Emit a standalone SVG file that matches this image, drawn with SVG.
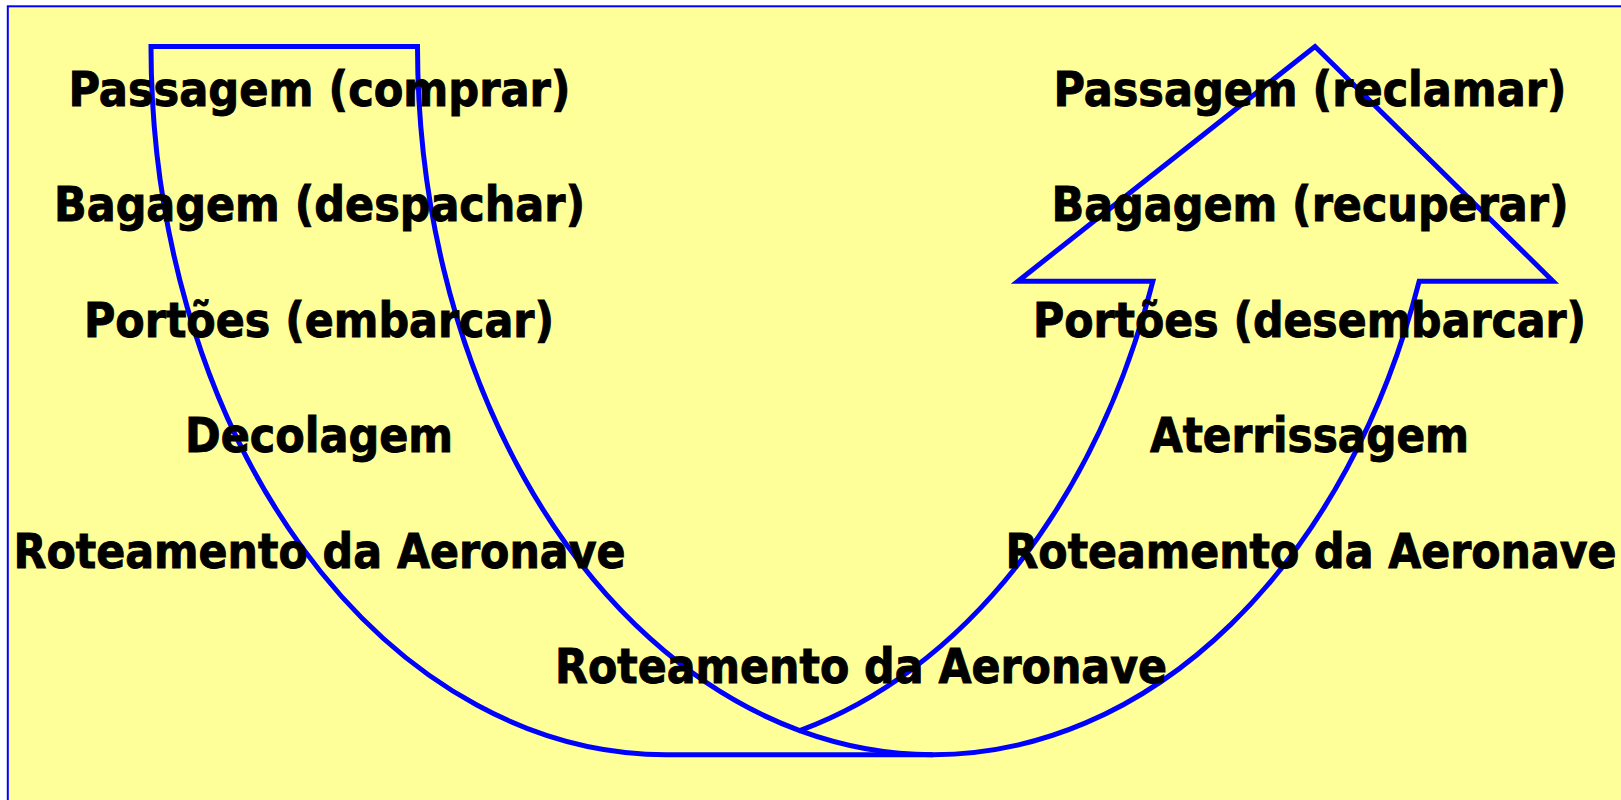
<svg xmlns="http://www.w3.org/2000/svg" width="1621" height="800" viewBox="0 0 1621 800">
<style>
.lbl{font-family:"DejaVu Sans","Liberation Sans",sans-serif;font-stretch:condensed;font-weight:bold;font-size:48px;fill:#000;stroke:#000;stroke-width:0.9;text-anchor:middle}
.band{fill:none;stroke:#0000ff;stroke-width:5;stroke-linejoin:miter}
</style>
<rect x="0" y="0" width="1621" height="800" fill="#ffffff"/>
<rect x="7.8" y="6.3" width="1660" height="840" fill="#ffff99" stroke="#0000ff" stroke-width="2"/>
<g id="connectors">
<path class="band" d="M151,46.5 A515.4,708.2 0 0 0 666.6,754.7 L932.9,754.7 A515.4,708.2 0 0 0 1419.2,281.2 L1553,281.2 L1315,46.5 L1018,281.2 L1152.9,281.2 A515.4,708.2 0 0 1 799.75,730.6 A515.4,708.2 0 0 1 417.5,46.5 Z"/>
<path class="band" d="M799.75,730.6 A515.4,708.2 0 0 0 932.9,754.7"/>
</g>
<g id="n-passagem-comprar"><text class="lbl" x="319.5" y="105.5" textLength="502" lengthAdjust="spacingAndGlyphs">Passagem (comprar)</text></g>
<g id="n-bagagem-despachar"><text class="lbl" x="319.5" y="221" textLength="531" lengthAdjust="spacingAndGlyphs">Bagagem (despachar)</text></g>
<g id="n-portoes-embarcar"><text class="lbl" x="319" y="336.6" textLength="470" lengthAdjust="spacingAndGlyphs">Portões (embarcar)</text></g>
<g id="n-decolagem"><text class="lbl" x="319" y="452.2" textLength="268" lengthAdjust="spacingAndGlyphs">Decolagem</text></g>
<g id="n-roteamento-1"><text class="lbl" x="319.5" y="567.8" textLength="612" lengthAdjust="spacingAndGlyphs">Roteamento da Aeronave</text></g>
<g id="n-roteamento-meio"><text class="lbl" x="861" y="683.4" textLength="612" lengthAdjust="spacingAndGlyphs">Roteamento da Aeronave</text></g>
<g id="n-passagem-reclamar"><text class="lbl" x="1310" y="105.5" textLength="513" lengthAdjust="spacingAndGlyphs">Passagem (reclamar)</text></g>
<g id="n-bagagem-recuperar"><text class="lbl" x="1310" y="221" textLength="517" lengthAdjust="spacingAndGlyphs">Bagagem (recuperar)</text></g>
<g id="n-portoes-desembarcar"><text class="lbl" x="1309.5" y="336.6" textLength="553" lengthAdjust="spacingAndGlyphs">Portões (desembarcar)</text></g>
<g id="n-aterrissagem"><text class="lbl" x="1309.5" y="452.2" textLength="319" lengthAdjust="spacingAndGlyphs">Aterrissagem</text></g>
<g id="n-roteamento-2"><text class="lbl" x="1311" y="567.8" textLength="611" lengthAdjust="spacingAndGlyphs">Roteamento da Aeronave</text></g>
</svg>
